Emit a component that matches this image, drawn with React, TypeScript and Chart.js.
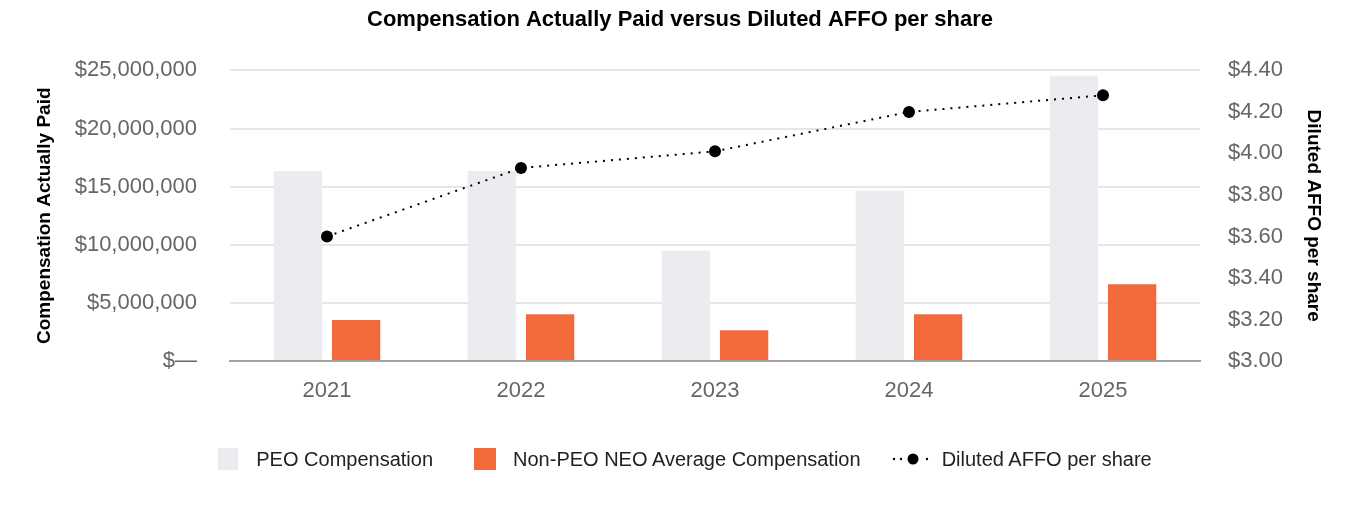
import React, { useEffect, useRef } from "react";
import { Chart, registerables } from "chart.js";

Chart.register(...registerables);

const years = ["2021", "2022", "2023", "2024", "2025"];
const peoComp = [16350000, 16350000, 9500000, 14650000, 24550000];
const nonPeoComp = [3520000, 4020000, 2650000, 4020000, 6600000];
const affo = [3.6, 3.93, 4.01, 4.2, 4.28];

const TITLE = "Compensation Actually Paid versus Diluted AFFO per share";
const LEFT_TITLE = "Compensation Actually Paid";
const RIGHT_TITLE = "Diluted AFFO per share";
const LEGEND_PEO = "PEO Compensation";
const LEGEND_NON = "Non-PEO NEO Average Compensation";
const LEGEND_AFFO = "Diluted AFFO per share";

const PEO_COLOR = "#ebecf0";
const NON_COLOR = "#f26a3b";
const FONT = "'Liberation Sans', Arial, sans-serif";

export default function App() {
  const ref = useRef<HTMLCanvasElement | null>(null);

  useEffect(() => {
    document.body.style.margin = "0";
    if (!ref.current) return;
    const chart = new Chart(ref.current, {
      type: "bar",
      data: {
        labels: years,
        datasets: [
          {
            type: "line",
            label: LEGEND_AFFO,
            data: affo,
            yAxisID: "y1",
            borderColor: "#000",
            borderWidth: 2,
            borderDash: [2, 6],
            borderCapStyle: "butt",
            pointRadius: 6,
            pointBackgroundColor: "#000",
            pointBorderColor: "#000",
            pointBorderWidth: 0,
            fill: false,
            tension: 0,
            order: 0,
          } as any,
          {
            type: "bar",
            label: LEGEND_PEO,
            data: peoComp,
            yAxisID: "y",
            backgroundColor: PEO_COLOR,
            categoryPercentage: 0.6,
            barPercentage: 0.83,
            order: 1,
          },
          {
            type: "bar",
            label: LEGEND_NON,
            data: nonPeoComp,
            yAxisID: "y",
            backgroundColor: NON_COLOR,
            categoryPercentage: 0.6,
            barPercentage: 0.83,
            order: 1,
          },
        ],
      },
      options: {
        responsive: false,
        animation: false,
        layout: { padding: { left: 0, right: 0, top: 0, bottom: 0 } },
        plugins: {
          legend: { display: false },
          tooltip: { enabled: false },
          title: {
            display: true,
            text: TITLE,
            color: "#000",
            font: { family: FONT, size: 22, weight: "bold" },
            padding: { top: 7, bottom: 37 },
          },
        },
        scales: {
          x: {
            z: 1,
            grid: { display: false, drawTicks: false },
            border: { display: true, color: "#a3a3a3", width: 2 },
            ticks: {
              color: "#666",
              font: { family: FONT, size: 22 },
              padding: 17,
            },
            afterFit: (s: any) => {
              s.height = 159;
            },
          },
          y: {
            position: "left",
            min: 0,
            max: 25000000,
            ticks: {
              stepSize: 5000000,
              color: "#666",
              font: { family: FONT, size: 22 },
              padding: 33,
              callback: (v: any) =>
                Number(v) === 0 ? "$\u2014" : "$" + Number(v).toLocaleString("en-US"),
            },
            grid: { color: "#e6e6e6", lineWidth: 2, drawTicks: false },
            border: { display: false },
            title: {
              display: true,
              text: LEFT_TITLE,
              color: "#000",
              font: { family: FONT, size: 19, weight: "bold" },
              padding: { top: 33, bottom: 0 },
            },
            afterFit: (s: any) => {
              s.width = 230;
            },
          },
          y1: {
            position: "right",
            min: 3,
            max: 4.4,
            ticks: {
              stepSize: 0.2,
              color: "#666",
              font: { family: FONT, size: 22 },
              padding: 28,
              callback: (v: any) => "$" + Number(v).toFixed(2),
            },
            grid: { display: false, drawTicks: false },
            border: { display: false },
            title: {
              display: true,
              text: RIGHT_TITLE,
              color: "#000",
              font: { family: FONT, size: 19, weight: "bold" },
              padding: { top: 35, bottom: 0 },
            },
            afterFit: (s: any) => {
              s.width = 160;
            },
          },
        },
      },
    });
    return () => chart.destroy();
  }, []);

  const textStyle: React.CSSProperties = {
    fontFamily: FONT,
    fontSize: 20,
    color: "#222",
    lineHeight: "22px",
    whiteSpace: "nowrap",
  };

  return (
    <div style={{ position: "relative", width: 1360, height: 520, background: "#fff" }}>
      <canvas ref={ref} width={1360} height={520} style={{ display: "block" }} />
      <div
        style={{
          position: "absolute",
          top: 448,
          left: 0,
          width: 1360,
          display: "flex",
          justifyContent: "center",
          alignItems: "center",
          paddingLeft: 10,
          boxSizing: "border-box",
        }}
      >
        <div style={{ display: "flex", alignItems: "center" }}>
          <span style={{ width: 20, height: 22, background: PEO_COLOR, display: "inline-block", marginRight: 18 }} />
          <span style={textStyle}>{LEGEND_PEO}</span>
        </div>
        <div style={{ display: "flex", alignItems: "center", marginLeft: 41 }}>
          <span style={{ width: 22, height: 22, background: NON_COLOR, display: "inline-block", marginRight: 17 }} />
          <span style={textStyle}>{LEGEND_NON}</span>
        </div>
        <div style={{ display: "flex", alignItems: "center", marginLeft: 30 }}>
          <svg width={40} height={14} style={{ marginRight: 11 }}>
            <circle cx={3} cy={7} r={1.2} fill="#000" />
            <circle cx={10} cy={7} r={1.2} fill="#000" />
            <circle cx={22} cy={7} r={5.5} fill="#000" />
            <circle cx={36} cy={7} r={1.2} fill="#000" />
          </svg>
          <span style={textStyle}>{LEGEND_AFFO}</span>
        </div>
      </div>
    </div>
  );
}
